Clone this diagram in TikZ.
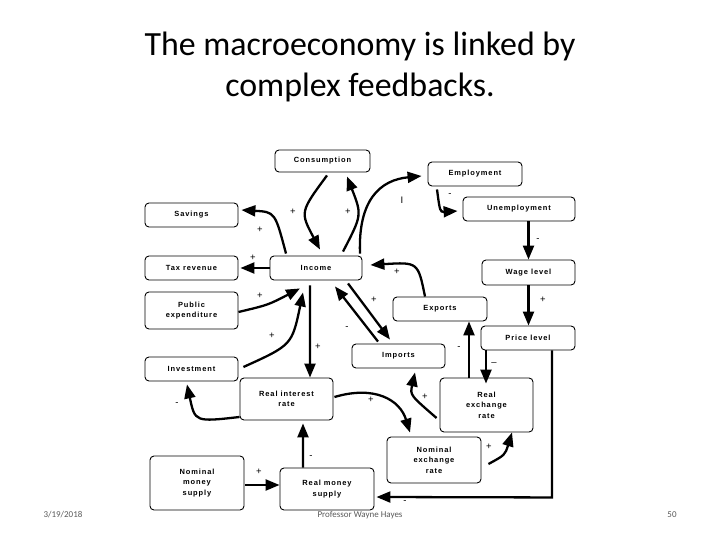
\documentclass[tikz,border=0pt]{standalone}
\usepackage{fontspec}
\setmainfont{Carlito}
\newfontfamily\boxfont[LetterSpace=12]{Liberation Sans}
\newfontfamily\sgfont{Liberation Sans}
\usetikzlibrary{arrows.meta,calc}
\tikzset{
 bx/.style={draw,rounded corners=4pt,line width=0.9pt,font=\boxfont\bfseries\fontsize{7.5}{10.5}\selectfont,align=center,inner sep=0pt},
 arr/.style={line width=2.3pt,-{Triangle[length=14pt,width=11pt]}},
 sg/.style={font=\sgfont\fontsize{9.5}{9.5}\selectfont},
 ft/.style={font=\fontsize{9}{10}\selectfont,text=black!65}
}
\newcommand{\bx}[6]{\node[bx,minimum width={(#4-#2)*1bp},minimum height={(#5-#3)*1bp}] (#1) at ({(#2+#4)/2},{(#3+#5)/2}) {#6};}
\begin{document}
\begin{tikzpicture}[x=1bp,y=-1bp]
\useasboundingbox (0,0) rectangle (720,540);
\node[font=\fontsize{34}{42}\selectfont,align=center] (title) at (360,67) {The macroeconomy is linked by\\complex feedbacks.};
\bx{cons}{275}{150}{370}{172}{Consumption}
\bx{emp}{428}{162}{522}{186}{Employment}
\bx{unemp}{463}{197}{575}{221}{Unemployment}
\bx{sav}{145}{203}{238}{227}{Savings}
\bx{tax}{145}{256}{238}{280}{Tax revenue}
\bx{inc}{270}{256}{362}{280}{Income}
\bx{wage}{482}{260}{575}{285}{Wage level}
\bx{pub}{145}{292}{238}{329}{Public\\expenditure}
\bx{exp}{393}{297}{487}{321}{Exports}
\bx{price}{481}{326}{575}{350}{Price level}
\bx{imp}{352}{344}{445}{368}{Imports}
\bx{inv}{145}{357}{238}{381}{Investment}
\bx{rir}{240}{378}{333}{420}{Real interest\\rate}
\bx{rer}{440}{378}{533}{432}{Real\\exchange\\rate}
\bx{ner}{387}{437}{481}{483}{Nominal\\exchange\\rate}
\bx{nms}{150}{456}{244}{510}{Nominal\\money\\supply}
\bx{rms}{280}{468}{374}{510}{Real money\\supply}
% connectors
\draw[arr] ($(cons.south)+(4.5,3)$) .. controls (300,212) .. ($(inc.north)+(4,-6)$);
\draw[arr] ($(inc.north)+(27,-4)$) .. controls (362,215) .. ($(cons.south)+(24.5,4)$);
\draw[arr] ($(inc.north)+(44,-2)$) .. controls (358,200) and (380,180) .. ($(emp.west)+(-6,2)$);
\draw[arr] ($(emp.south)+(-38,3)$) .. controls (440,212) .. ($(unemp.west)+(-5,2)$);
\draw[arr] (wage.north |- unemp.south) -- (wage.north);
\draw[arr] (wage.south) -- (wage.south |- price.north);
\draw[arr] ($(inc.north)+(-30,-2)$) .. controls (275,212) .. ($(sav.east)+(3,-5)$);
\draw[arr] (inc.west) -- ($(tax.east)+(2,0)$);
\draw[arr] ($(pub.east)+(0,1.5)$) .. controls (268,305) .. ($(inc.south)+(-16,8)$);
\draw[arr] ($(inv.east)+(5,-2)$) .. controls (292,345) .. ($(inc.south)+(-13,12)$);
\draw[arr] ($(inc.south)+(-6,5)$) -- ($(rir.north)+(23.5,0)$);
\draw[arr] ($(inc.south)+(32,3)$) -- ($(imp.north)+(-8.5,-4)$);
\draw[arr] ($(imp.north)+(-20.5,-2)$) -- ($(inc.south)+(19,6)$);
\draw[arr] ($(exp.north)+(-15,0)$) .. controls (418,262) .. ($(inc.east)+(8,-3)$);
\draw[arr] ($(rer.north)+(-17.5,0)$) -- ($(exp.south)+(29,0)$);
\draw[arr] ($(price.south)+(-42,0)$) -- ($(rer.north)+(-0.5,6)$);
\draw[arr] ($(price.south)+(24,0)$) -- ($(price.south)+(24,147)$) -- ($(rms.east)+(2,8)$);
\draw[arr] ($(rer.west)+(-3,13)$) .. controls (410,395) .. ($(imp.south)+(16.5,4)$);
\draw[arr] ($(rir.west)+(0,18)$) .. controls (195,422) .. ($(inv.south)+(-4.5,3)$);
\draw[arr] ($(rir.east)+(1,-2)$) .. controls (375,385) and (400,400) .. ($(ner.north)+(-24,-4)$);
\draw[arr] ($(ner.east)+(7,4)$) .. controls (505,455) .. ($(rer.south)+(25.5,0)$);
\draw[arr] ($(nms.east)+(1,2)$) -- ($(rms.west)+(0,-4)$);
\draw[arr] ($(rms.north)+(-24,0)$) -- ($(rir.south)+(16.5,3)$);
% signs
\node[sg] (s1) at (293,212) {+};
\node[sg] (s2) at (348,212) {+};
\node[sg] (s3) at (402,200) {I};
\node[sg] (s4) at (450,195) {-};
\node[sg] (s5) at (538,240) {-};
\node[sg] (s6) at (543,300) {+};
\node[sg] (s7) at (260,230) {+};
\node[sg] (s8) at (253,258) {+};
\node[sg] (s9) at (260,296) {+};
\node[sg] (s10) at (272,336) {+};
\node[sg] (s11) at (318,347) {+};
\node[sg] (s12) at (374,300) {+};
\node[sg] (s13) at (347,328) {-};
\node[sg] (s14) at (397,272) {+};
\node[sg] (s15) at (459,348) {-};
\node[sg] (s16) at (494,364) {–};
\node[sg] (s17) at (405,502) {-};
\node[sg] (s18) at (425,397) {+};
\node[sg] (s19) at (177,404) {-};
\node[sg] (s20) at (371,400) {+};
\node[sg] (s21) at (489,447) {+};
\node[sg] (s22) at (259,472) {+};
\node[sg] (s23) at (311,457) {-};
% footer
\node[ft] (date) at (63,515) {3/19/2018};
\node[ft] (prof) at (360,515) {Professor Wayne Hayes};
\node[ft] (pg) at (672,515) {50};
\end{tikzpicture}
\end{document}
